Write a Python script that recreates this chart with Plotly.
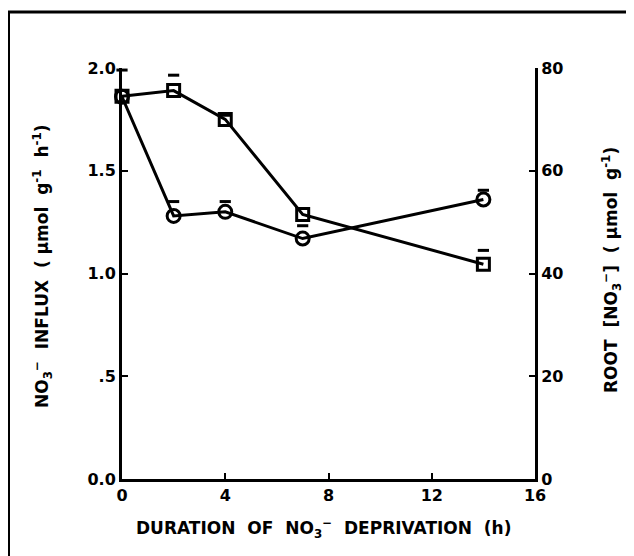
import plotly.graph_objects as go

hours = [0, 2, 4, 7, 14]
influx = [1.86, 1.28, 1.30, 1.17, 1.36]          # circles, left axis
influx_err_up = [0.13, 0.07, 0.05, 0.0, 0.045]
root_no3 = [74.5, 75.6, 70.0, 51.5, 41.8]        # squares, right axis
root_err_up = [0.0, 3.0, 0.8, 0.0, 2.7]
root_err_down = [0.0, 0.0, 0.0, 2.2, 0.0]

left_ticks = [0, 0.5, 1.0, 1.5, 2.0]
left_labels = ["0.0", ".5", "1.0", "1.5", "2.0"]
right_ticks = [0, 20, 40, 60, 80]
x_ticks = [0, 4, 8, 12, 16]

x_title = "DURATION  OF  NO<sub>3</sub><sup>−</sup>  DEPRIVATION  (h)"
left_title = "NO<sub>3</sub><sup>−</sup>  INFLUX  ( µmol  g<sup>-1</sup>  h<sup>-1</sup>)"
right_title = "ROOT  [NO<sub>3</sub><sup>−</sup>]  ( µmol  g<sup>-1</sup>)"

FONT = "DejaVu Sans"
LW = 3

# figure is offset 8px by page body margin; plot area in figure px
W, H = 626, 548
L, T = 114, 60
PW, PH = 413, 411
R = W - L - PW
B = H - T - PH

def px(xf):
    return (xf - L) / PW

def py(yf):
    return (T + PH - yf) / PH

fig = go.Figure()

fig.add_trace(go.Scatter(
    x=hours, y=influx, mode="lines+markers",
    line=dict(color="black", width=LW),
    marker=dict(symbol="circle-open", size=13, color="black", line=dict(width=3)),
    showlegend=False, cliponaxis=False))

fig.add_trace(go.Scatter(
    x=hours, y=root_no3, mode="lines+markers", yaxis="y2",
    line=dict(color="black", width=LW),
    marker=dict(symbol="square-open", size=12, color="black", line=dict(width=3)),
    showlegend=False, cliponaxis=False))

cx, cy = [], []
for h, v, e in zip(hours, influx, influx_err_up):
    if e > 0:
        cx.append(h); cy.append(v + e)
fig.add_trace(go.Scatter(
    x=cx, y=cy, mode="markers",
    marker=dict(symbol="line-ew", size=8, line=dict(width=3, color="black")),
    showlegend=False, cliponaxis=False))

sx, sy = [], []
for h, v, eu, ed in zip(hours, root_no3, root_err_up, root_err_down):
    if eu > 0:
        sx.append(h); sy.append(v + eu)
    if ed > 0:
        sx.append(h); sy.append(v - ed)
fig.add_trace(go.Scatter(
    x=sx, y=sy, mode="markers", yaxis="y2",
    marker=dict(symbol="line-ew", size=8, line=dict(width=3, color="black")),
    showlegend=False, cliponaxis=False))

tickfont = dict(family=FONT, size=16, color="black", weight="bold")
titlefont = dict(family=FONT, size=17, color="black", weight="bold")

axis_common = dict(showgrid=False, zeroline=False, showline=True, linecolor="black",
                   linewidth=LW, ticks="inside", ticklen=6, tickwidth=2,
                   tickcolor="black", tickfont=tickfont)

fig.update_layout(
    width=W, height=H,
    margin=dict(l=L, r=R, t=T, b=B, autoexpand=False),
    paper_bgcolor="white", plot_bgcolor="white",
    font=dict(family=FONT, color="black"),
    xaxis=dict(range=[0, 16], tickvals=x_ticks, ticktext=[str(t) for t in x_ticks],
               **axis_common),
    yaxis=dict(range=[0, 2.0], tickvals=left_ticks, ticktext=left_labels,
               **axis_common),
    yaxis2=dict(range=[0, 80], tickvals=right_ticks, ticktext=[str(t) for t in right_ticks],
                overlaying="y", side="right", **axis_common),
    annotations=[
        dict(text=x_title, xref="paper", yref="paper", x=px(315), y=py(520),
             xanchor="center", yanchor="middle", showarrow=False, font=titlefont),
        dict(text=left_title, xref="paper", yref="paper", x=px(34), y=py(258),
             xanchor="center", yanchor="middle", textangle=-90, showarrow=False, font=titlefont),
        dict(text=right_title, xref="paper", yref="paper", x=px(603), y=py(262),
             xanchor="center", yanchor="middle", textangle=-90, showarrow=False, font=titlefont),
    ],
    shapes=[
        dict(type="rect", xref="paper", yref="paper",
             x0=px(0.5), x1=px(660), y0=py(600), y1=py(4),
             line=dict(color="black", width=3), fillcolor="rgba(0,0,0,0)", layer="below"),
    ],
)

fig.write_html("out.html")
